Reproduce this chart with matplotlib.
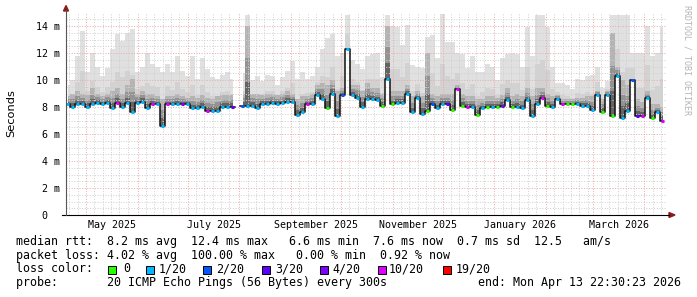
import numpy as np
import matplotlib
matplotlib.use("Agg")
import matplotlib.pyplot as plt
from matplotlib.patches import Rectangle, Polygon
from matplotlib.lines import Line2D

# median rtt per 3 day bucket (ms), top of dark smoke, top of light smoke, lost pings of 20
med = [8.2, 8.0, 8.2, 8.2, 8.0, 8.2, 8.3, 8.2, 8.3, 7.9, 8.3, 8.0, 8.3, 7.6, 8.3,
       8.4, 7.9, 8.2, 8.2, 6.6, 8.2, 8.2, 8.2, 8.2, 8.2, 7.9, 7.9, 8.0, 7.7, 7.7,
       7.7, 8.0, 8.0, 8.0, np.nan, 8.1, 8.1, 8.1, 7.9, 8.2, 8.2, 8.3, 8.2, 8.3, 8.4,
       8.4, 7.4, 7.6, 8.2, 8.2, 8.9, 8.6, 7.9, 9.0, 7.3, 8.9, 12.3, 8.9, 8.7, 8.0,
       8.6, 8.6, 8.5, 8.1, 10.1, 8.2, 8.3, 8.3, 9.0, 7.6, 8.7, 7.5, 7.7, 8.2, 7.9,
       8.2, 8.2, 7.8, 9.3, 8.1, 8.0, 8.0, 7.4, 7.9, 8.0, 8.0, 8.0, 8.1, 8.5, 8.0,
       8.0, 7.9, 8.5, 7.3, 8.2, 8.7, 8.1, 8.0, 8.6, 8.2, 8.2, 8.2, 8.2, 8.1, 8.1,
       7.8, 8.9, 7.6, 8.9, 7.3, 10.3, 7.2, 7.7, 10.0, 7.3, 7.3, 8.7, 7.2, 7.6, 7.0]
mid = [8.8, 9.0, 9.2, 9.0, 8.9, 9.4, 9.0, 8.8, 9.0, 9.2, 9.4, 9.0, 9.6, 10.1, 9.0,
       9.2, 9.0, 9.0, 8.8, 8.6, 8.8, 8.8, 9.0, 8.8, 8.7, 8.8, 8.7, 8.9, 8.7, 8.6,
       8.8, 8.9, 8.9, 8.9, np.nan, 9.0, 14.0, 9.0, 9.0, 8.9, 9.0, 9.0, 8.9, 9.0, 9.2,
       9.0, 8.6, 8.8, 8.8, 9.0, 9.6, 9.8, 9.6, 10.0, 9.2, 9.4, 12.3, 9.6, 9.6, 9.2,
       9.8, 9.4, 9.4, 9.0, 14.0, 9.2, 9.2, 9.2, 9.6, 8.8, 9.2, 8.8, 12.0, 9.0, 8.8,
       9.0, 9.0, 9.0, 9.6, 9.0, 8.8, 8.8, 8.6, 8.6, 8.8, 8.8, 8.7, 8.9, 9.4, 8.8,
       9.0, 8.8, 9.4, 8.8, 9.4, 9.4, 9.0, 8.8, 8.9, 8.6, 8.6, 8.6, 8.7, 8.7, 8.8,
       8.8, 9.2, 8.6, 9.2, 13.5, 11.0, 10.0, 9.6, 10.0, 8.6, 8.4, 9.2, 8.2, 8.2, 8.0]
hi = [9.6, 10.0, 11.8, 13.6, 10.6, 12.0, 11.0, 10.3, 10.9, 12.3, 13.4, 12.9, 13.5, 13.8, 10.6,
      11.0, 12.0, 11.2, 11.0, 10.6, 11.2, 10.6, 11.8, 10.7, 10.3, 11.8, 10.1, 11.6, 10.8, 10.2,
      10.1, 10.4, 10.6, 10.1, np.nan, 10.5, 14.8, 10.0, 10.3, 9.9, 10.4, 10.3, 9.6, 10.2, 10.7,
      11.4, 10.1, 10.6, 10.1, 10.3, 11.0, 12.3, 13.1, 13.4, 11.8, 12.0, 14.8, 11.5, 11.2, 10.8,
      11.8, 11.9, 12.0, 10.2, 14.8, 14.0, 13.9, 12.6, 14.1, 11.1, 11.0, 10.9, 13.2, 13.3, 11.6,
      14.9, 12.8, 12.8, 12.0, 11.9, 10.9, 11.8, 10.6, 10.6, 11.2, 11.0, 10.0, 11.6, 11.9, 12.0,
      11.9, 11.0, 13.9, 11.8, 14.8, 14.8, 13.9, 11.0, 9.8, 9.8, 9.6, 9.3, 10.1, 10.0, 10.3,
      10.4, 11.0, 9.4, 9.9, 14.8, 14.8, 14.8, 14.8, 12.0, 12.0, 12.0, 14.0, 11.8, 12.0, 13.9]
loss = [1, 1, 1, 1, 1, 1, 1, 1, 1, 1, 10, 1, 1, 1, 1, 1, 1, 10, 1, 1, 10, 1, 1, 4, 1, 1, 1, 1, 10, 1,
        1, 1, 1, 3, 1, 2, 1, 1, 1, 1, 1, 1, 1, 1, 1, 1, 1, 1, 10, 1, 1, 1, 0, 1, 1, 2, 1, 1, 1, 1,
        1, 1, 1, 0, 1, 0, 1, 1, 1, 1, 1, 1, 0, 2, 1, 1, 3, 0, 10, 0, 10, 1, 0, 1, 0, 1, 0, 4, 1, 0,
        1, 1, 1, 1, 1, 10, 0, 1, 1, 10, 0, 0, 1, 1, 1, 1, 1, 0, 1, 0, 1, 1, 1, 2, 3, 10, 1, 0, 1, 10]

loss_levels = [0, 1, 2, 3, 4, 10, 19]
loss_labels = ["0", "1/20", "2/20", "3/20", "4/20", "10/20", "19/20"]
loss_colors = ["#26ff00", "#00b8ff", "#0059ff", "#5e00ff", "#7e00ff", "#dd00ff", "#ff0000"]

month_labels = ["May 2025", "July 2025", "September 2025", "November 2025",
                "January 2026", "March 2026"]
month_label_at = ["2025-05-16T12", "2025-07-16T12", "2025-09-16", "2025-11-16",
                  "2026-01-16T12", "2026-03-16T12"]

legend_lines = [
    "median rtt:  8.2 ms avg  12.4 ms max   6.6 ms min  7.6 ms now  0.7 ms sd  12.5   am/s",
    "packet loss: 4.02 % avg  100.00 % max   0.00 % min  0.92 % now",
    "loss color:",
    "probe:       20 ICMP Echo Pings (56 Bytes) every 300s             end: Mon Apr 13 22:30:23 2026",
]

W, H = 697, 297
plt.rcParams["font.family"] = ["DejaVu Sans Mono"]


def fx(p):
    return p / W


def fy(p):
    return 1 - p / H


def color_for(n):
    c = loss_colors[0]
    for lv, col in zip(loss_levels, loss_colors):
        if n >= lv:
            c = col
    return c


med = np.array(med)
mid = np.array(mid)
hi = np.array(hi)
end = np.datetime64("2026-04-13T22:30:23")
start = end - np.timedelta64(360, "D")
step = np.timedelta64(3, "D")
dates = start + step / 2 + np.arange(len(med)) * step

fig = plt.figure(figsize=(W / 100, H / 100), dpi=100)
fig.patch.set_facecolor("white")
ax = fig.add_axes([fx(66), fy(215), 600 / W, (215 - 12.5) / H])
ax.set_xlim(start, end)
ax.set_ylim(0, 15)
for s in ax.spines.values():
    s.set_visible(False)

# smoke, light to dark
ax.fill_between(dates, med, hi, step="mid", color="#e0e0e0", lw=0, zorder=1)
ax.fill_between(dates, med, med + 0.45 * (hi - med), step="mid", color="#d2d2d2", lw=0, zorder=1.1)
ax.fill_between(dates, med, mid, step="mid", color="#b4b4b4", lw=0, zorder=1.2)
ax.fill_between(dates, med, med + 0.6 * (mid - med), step="mid", color="#939393", lw=0, zorder=1.3)
ax.fill_between(dates, med, med + 0.3 * (mid - med), step="mid", color="#646464", lw=0, zorder=1.4)

# grid drawn over the smoke
dot = (0, (1, 1.6))
for v in np.arange(0.5, 15, 0.5):
    if v % 2 == 0:
        ax.axhline(v, color="#eeaaaa", lw=0.72, ls=dot, zorder=2)
    else:
        ax.axhline(v, color="#d0d0d0", lw=0.72, ls=dot, zorder=2)
for m in np.arange(np.datetime64("2025-04"), np.datetime64("2026-05")):
    d0 = m.astype("datetime64[D]")
    for day in [0, 5, 10, 15, 20, 25]:
        t = d0 + np.timedelta64(day, "D")
        if start < t < end:
            if day == 0:
                ax.axvline(t, color="#eeaaaa", lw=0.72, ls=dot, zorder=2)
            else:
                ax.axvline(t, color="#d0d0d0", lw=0.72, ls=dot, zorder=2)

# median line coloured by loss
ax.step(dates, med, where="mid", color="#111111", lw=1.1, zorder=3)
cols = [color_for(n) for n in loss]
ax.hlines(med, dates - step / 2, dates + step / 2, colors=cols, lw=2.2, zorder=4)

ax.set_yticks(range(0, 15, 2))
ax.set_yticklabels(["0  "] + ["%d m" % v for v in range(2, 15, 2)])
ax.set_xticks([np.datetime64(s) for s in month_label_at])
ax.set_xticklabels(month_labels)
ax.tick_params(length=0, labelsize=7.2, colors="black")
ax.tick_params(axis="y", pad=4.3)
ax.tick_params(axis="x", pad=3.5)

# axes with arrows
fig.add_artist(Line2D([fx(62), fx(669)], [fy(215), fy(215)], color="black", lw=0.8))
fig.add_artist(Line2D([fx(66), fx(66)], [fy(215), fy(10)], color="#555555", lw=0.8))
fig.add_artist(Polygon([(fx(63.5), fy(11)), (fx(68.5), fy(11)), (fx(66), fy(5.5))],
                       closed=True, color="#8b1a1a", transform=fig.transFigure))
fig.add_artist(Polygon([(fx(669), fy(212.5)), (fx(669), fy(217.5)), (fx(675), fy(215))],
                       closed=True, color="#8b1a1a", transform=fig.transFigure))

fig.text(fx(11), fy(113.5), "Seconds", rotation=90, ha="center", va="center",
         family="DejaVu Sans", fontsize=8.2)
fig.text(fx(687.5), fy(5), "RRDTOOL / TOBI OETIKER", rotation=270, ha="center", va="top",
         fontsize=6, color="#b4b4b4")

# legend
baselines = [245, 258.7, 272.4, 286]
for txt, b in zip(legend_lines, baselines):
    fig.text(fx(16), fy(b), txt, fontsize=8.4, va="baseline", ha="left")

box_x = [108.3, 146, 203.3, 261.7, 320, 377.7, 442.7]
lab_x = [123, 159, 216.3, 275, 332, 389, 455.7]
for bx, lx, col, lab in zip(box_x, lab_x, loss_colors, loss_labels):
    fig.add_artist(Rectangle((fx(bx), fy(273.5)), 8 / W, 8 / H, facecolor=col,
                             edgecolor="black", lw=0.7, transform=fig.transFigure))
    fig.text(fx(lx), fy(baselines[2]), lab, fontsize=8.4, va="baseline", ha="left")

fig.savefig("out.png", dpi=100, facecolor="white")
